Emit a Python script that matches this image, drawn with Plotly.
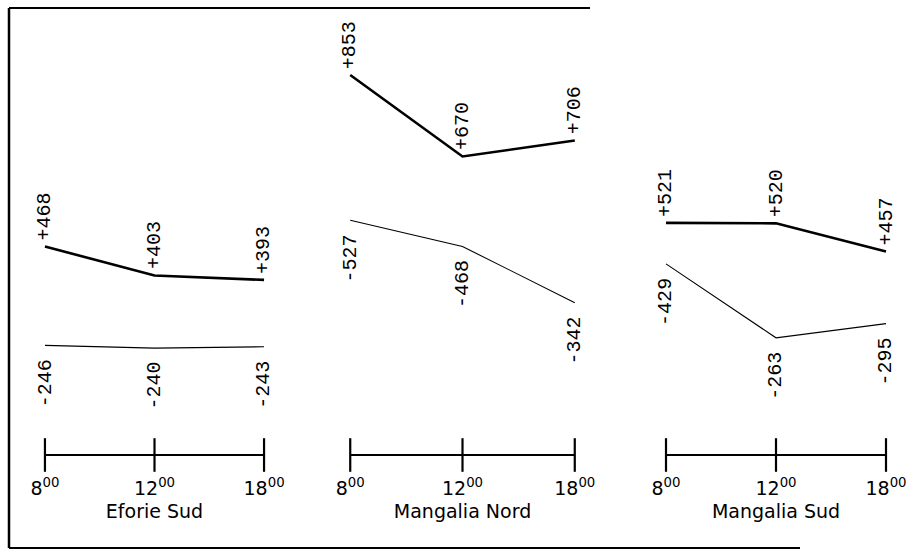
import plotly.graph_objects as go

# ---- data ----
stations = ["Eforie Sud", "Mangalia Nord", "Mangalia Sud"]
hour_labels = ["8<sup>00</sup>", "12<sup>00</sup>", "18<sup>00</sup>"]
hour_index = [0, 1, 2]

positive_values = {
    "Eforie Sud": [468, 403, 393],
    "Mangalia Nord": [853, 670, 706],
    "Mangalia Sud": [521, 520, 457],
}
negative_values = {
    "Eforie Sud": [-246, -240, -243],
    "Mangalia Nord": [-527, -468, -342],
    "Mangalia Sud": [-429, -263, -295],
}
baseline = [0, 0, 0]

# ---- layout geometry (pixels) ----
W, H = 918, 552
domains_px = [(34, 275), (339, 586), (655, 897)]
base_py = 455          # pixel row of the time axis
unit_px = 0.4455       # pixels per unit of value
y_range = [-(H - base_py) / unit_px, base_py / unit_px]
axis_pos = (H - base_py) / H

VAL_FONT = dict(family="Liberation Mono", size=20, color="black")
TXT_FONT = dict(family="DejaVu Sans", size=19, color="black")

fig = go.Figure()
annotations = []

for i, st in enumerate(stations):
    xa = "x" if i == 0 else f"x{i+1}"
    pos = positive_values[st]
    neg = negative_values[st]
    mag_neg = [abs(v) for v in neg]

    # time axis with ticks
    fig.add_trace(go.Scatter(
        x=hour_index, y=baseline, xaxis=xa, yaxis="y", mode="lines+markers",
        line=dict(color="black", width=2),
        marker=dict(symbol="line-ns", size=24, line=dict(color="black", width=2.2)),
        hoverinfo="skip", showlegend=False, cliponaxis=False))
    # positive (thick)
    fig.add_trace(go.Scatter(
        x=hour_index, y=pos, xaxis=xa, yaxis="y", mode="lines",
        line=dict(color="black", width=2.6), showlegend=False))
    # negative (thin)
    fig.add_trace(go.Scatter(
        x=hour_index, y=mag_neg, xaxis=xa, yaxis="y", mode="lines",
        line=dict(color="black", width=1.1), showlegend=False))

    for xi, v in zip(hour_index, pos):
        annotations.append(dict(
            x=xi, y=v, xref=xa, yref="y", text=f"+{v}", showarrow=False,
            textangle=-90, xanchor="center", yanchor="bottom", yshift=4,
            font=VAL_FONT))
    for xi, v in zip(hour_index, neg):
        annotations.append(dict(
            x=xi, y=abs(v), xref=xa, yref="y", text=f"-{abs(v)}", showarrow=False,
            textangle=-90, xanchor="center", yanchor="top", yshift=-12,
            font=VAL_FONT))

    d0, d1 = domains_px[i]
    axis_cfg = dict(
        domain=[d0 / W, d1 / W], range=[-0.1, 2.1], anchor="free", position=axis_pos,
        showgrid=False, zeroline=False, showline=False, ticks="",
        tickvals=hour_index, ticktext=hour_labels, tickfont=TXT_FONT,
        ticklabelstandoff=20,
        title=dict(text=st, font=TXT_FONT, standoff=6), automargin=False,
        fixedrange=True)
    key = "xaxis" if i == 0 else f"xaxis{i+1}"
    fig.layout[key] = axis_cfg

# frame around the figure (paper coordinates)
def px(x):
    return x / W

def py(y):
    return 1 - y / H

shapes = [
    dict(type="line", xref="paper", yref="paper", x0=px(9), x1=px(9), y0=py(8), y1=py(548),
         line=dict(color="black", width=2.5)),
    dict(type="line", xref="paper", yref="paper", x0=px(9), x1=px(800), y0=py(548), y1=py(548),
         line=dict(color="black", width=2.2)),
    dict(type="line", xref="paper", yref="paper", x0=px(9), x1=px(590), y0=py(8), y1=py(8),
         line=dict(color="black", width=1.8)),
]

fig.update_layout(
    width=W, height=H, margin=dict(l=0, r=0, t=0, b=0),
    paper_bgcolor="white", plot_bgcolor="white",
    yaxis=dict(range=y_range, visible=False, fixedrange=True, domain=[0, 1]),
    annotations=annotations, shapes=shapes, showlegend=False,
)

fig.write_html(
    "out.html",
    config={"displayModeBar": False},
    post_script="document.body.style.margin='0';document.body.style.overflow='hidden';",
)
